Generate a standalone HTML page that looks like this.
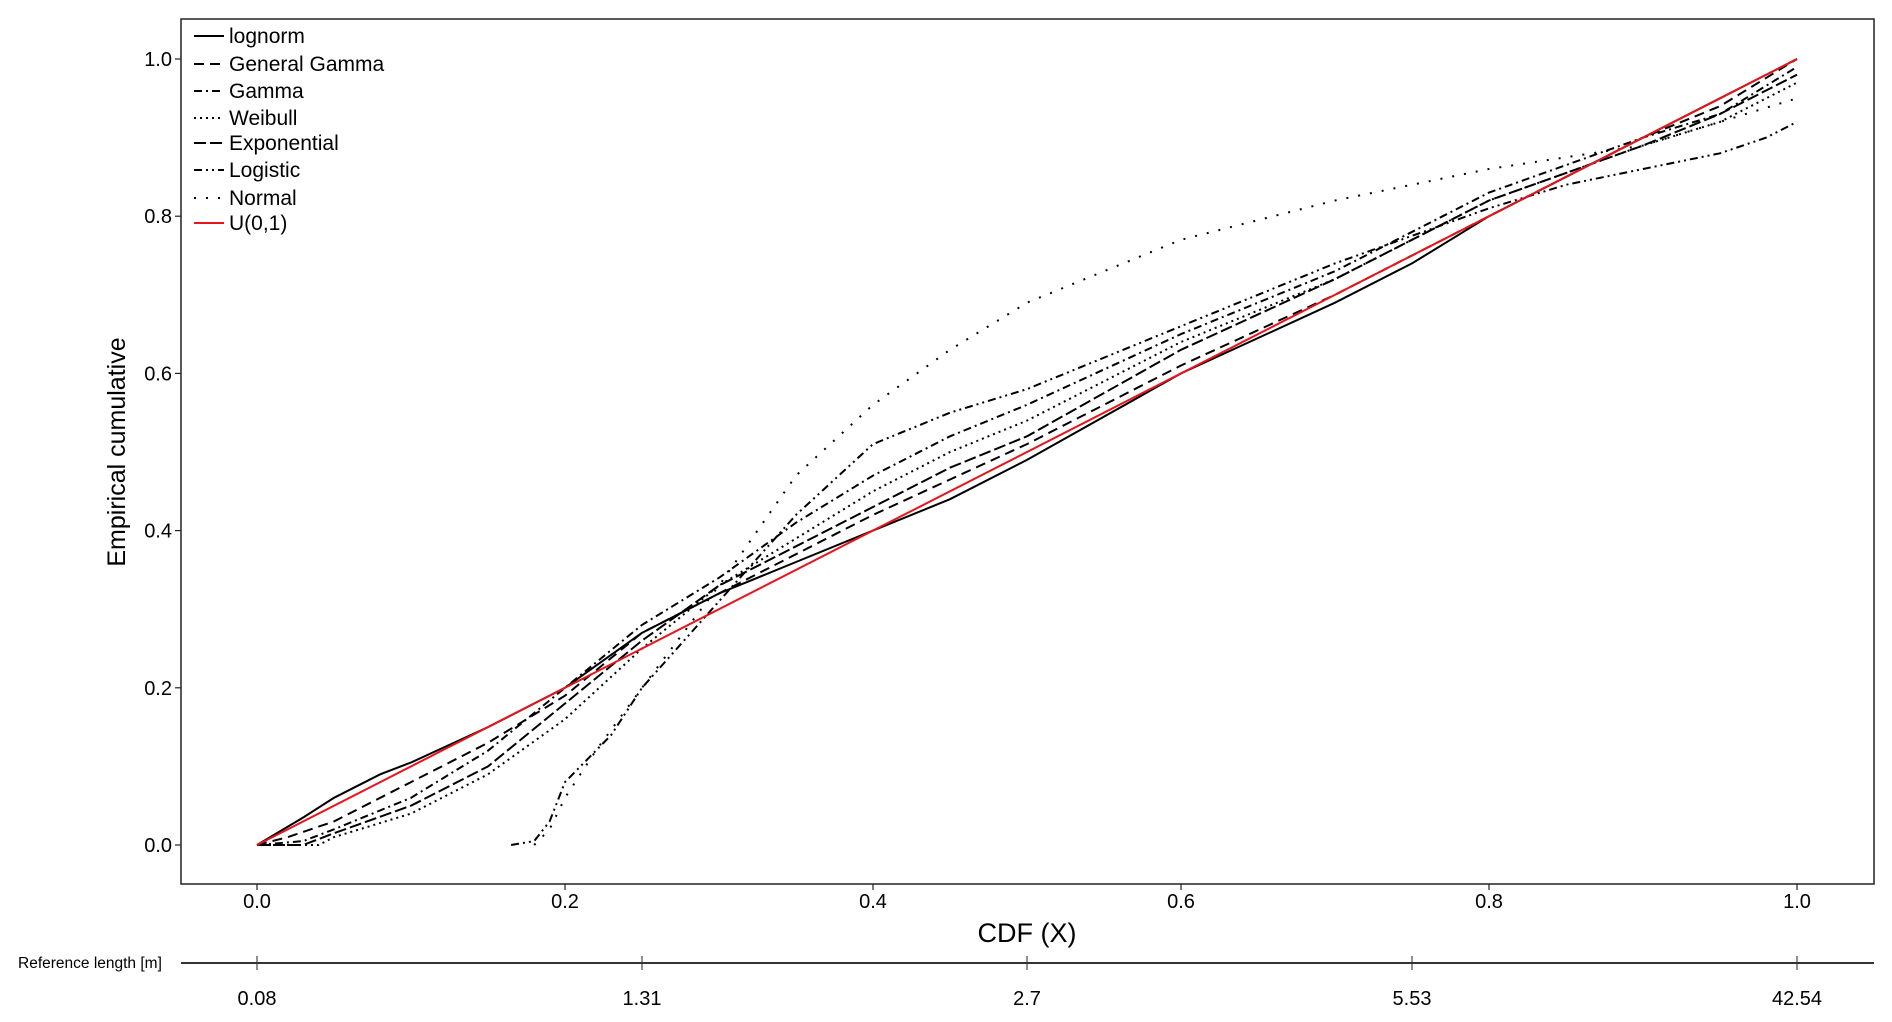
<!DOCTYPE html>
<html><head><meta charset="utf-8"><style>
body{margin:0;background:#fff;}
svg{display:block;font-family:"Liberation Sans",sans-serif;}
</style></head><body>
<svg id="chart" width="1892" height="1022" viewBox="0 0 1892 1022" xmlns="http://www.w3.org/2000/svg">
<rect x="181" y="19" width="1693" height="865" fill="none" stroke="#222" stroke-width="1.5"/>
<g id="ticks"></g>
<g id="series"></g>
<text x="125" y="452" font-size="25" text-anchor="middle" transform="rotate(-90 125 452)">Empirical cumulative</text>
<text x="1027" y="942" font-size="27" text-anchor="middle">CDF (X)</text>
<line x1="181" y1="963" x2="1874" y2="963" stroke="#333" stroke-width="2"/>
<text x="18" y="968" font-size="15.5">Reference length [m]</text>
<g id="legend"></g>
</svg>
<script>
const xTicks=[0,0.2,0.4,0.6,0.8,1.0];
const xTickLabels=["0.0","0.2","0.4","0.6","0.8","1.0"];
const yTicks=[0,0.2,0.4,0.6,0.8,1.0];
const yTickLabels=["0.0","0.2","0.4","0.6","0.8","1.0"];
const refTicks=[0,0.25,0.5,0.75,1.0];
const refLabels=["0.08","1.31","2.7","5.53","42.54"];
const seriesNames=["lognorm","General Gamma","Gamma","Weibull","Exponential","Logistic","Normal","U(0,1)"];
const lognormX=[0,0.03,0.05,0.08,0.1,0.15,0.2,0.25,0.3,0.35,0.4,0.45,0.5,0.6,0.7,0.75,0.8,0.9,0.95,1];
const lognormY=[0,0.035,0.06,0.09,0.105,0.15,0.2,0.27,0.32,0.36,0.4,0.44,0.49,0.6,0.69,0.74,0.8,0.9,0.95,1];
const ggammaX=[0,0.02,0.05,0.1,0.15,0.2,0.25,0.3,0.35,0.4,0.5,0.6,0.7,0.8,0.9,0.95,1];
const ggammaY=[0,0.01,0.03,0.08,0.13,0.19,0.27,0.32,0.37,0.42,0.51,0.61,0.7,0.8,0.9,0.94,1];
const gammaX=[0,0.03,0.05,0.1,0.15,0.2,0.25,0.3,0.35,0.4,0.45,0.5,0.6,0.7,0.8,0.9,0.95,1];
const gammaY=[0,0.005,0.02,0.06,0.12,0.2,0.28,0.34,0.41,0.47,0.52,0.56,0.65,0.73,0.83,0.9,0.93,0.99];
const weibullX=[0,0.04,0.05,0.1,0.15,0.2,0.25,0.3,0.35,0.4,0.45,0.5,0.6,0.7,0.8,0.9,0.95,1];
const weibullY=[0,0,0.01,0.04,0.09,0.16,0.25,0.33,0.39,0.45,0.5,0.54,0.64,0.72,0.82,0.89,0.92,0.97];
const expoX=[0,0.03,0.05,0.1,0.15,0.2,0.25,0.3,0.35,0.4,0.45,0.5,0.6,0.7,0.8,0.9,0.95,1];
const expoY=[0,0,0.015,0.05,0.1,0.18,0.26,0.33,0.38,0.43,0.48,0.52,0.63,0.72,0.82,0.89,0.93,0.98];
const logisticX=[0.165,0.18,0.19,0.2,0.23,0.25,0.3,0.35,0.4,0.45,0.5,0.6,0.7,0.8,0.85,0.9,0.95,0.98,1];
const logisticY=[0,0.005,0.03,0.08,0.14,0.2,0.31,0.42,0.51,0.55,0.58,0.66,0.74,0.81,0.84,0.86,0.88,0.9,0.92];
const normalX=[0.18,0.19,0.2,0.22,0.25,0.3,0.35,0.4,0.45,0.5,0.6,0.7,0.8,0.9,0.95,1];
const normalY=[0,0.02,0.06,0.12,0.2,0.33,0.47,0.56,0.63,0.69,0.77,0.82,0.86,0.89,0.92,0.95];
const uniformX=[0,1];
const uniformY=[0,1];
const NS="http://www.w3.org/2000/svg";
function sx(v){return 257+v*(1797-257);}
function sy(v){return 845-v*(845-59);}
const tg=document.getElementById('ticks');
function mk(tag,parent,attrs){const e=document.createElementNS(NS,tag);for(const k in attrs)e.setAttribute(k,attrs[k]);parent.appendChild(e);return e;}
xTicks.forEach((t,i)=>{
 const l=mk('line',tg,{x1:sx(t),x2:sx(t),y1:884,y2:890,stroke:'#222','stroke-width':1.2});
 
 
 const tx=mk('text',tg,{x:sx(t),y:908,'font-size':20,'text-anchor':'middle'});tx.textContent=xTickLabels[i];
 
 
});
yTicks.forEach((t,i)=>{
 const l=mk('line',tg,{x1:175,x2:181,y1:sy(t),y2:sy(t),stroke:'#222','stroke-width':1.2});
 
 
 const tx=mk('text',tg,{x:172,y:sy(t)+7,'font-size':20,'text-anchor':'end'});tx.textContent=yTickLabels[i];
 
 
});
refTicks.forEach((t,i)=>{
 const l=mk('line',tg,{x1:sx(t),x2:sx(t),y1:956,y2:970,stroke:'#222','stroke-width':1});
 
 
 const tx=mk('text',tg,{x:sx(t),y:1005,'font-size':20,'text-anchor':'middle'});tx.textContent=refLabels[i];
 
 
});
const styles=[
 {d:'',c:'#000',w:2},{d:'10,6',c:'#000',w:2},{d:'8,4,2,4',c:'#000',w:2},{d:'2,4',c:'#000',w:2},
 {d:'12,4',c:'#000',w:2},{d:'8,4,2,4,2,4',c:'#000',w:2},{d:'2,10',c:'#000',w:2},{d:'',c:'#e8141b',w:2}];
const data=[[lognormX,lognormY],[ggammaX,ggammaY],[gammaX,gammaY],[weibullX,weibullY],[expoX,expoY],[logisticX,logisticY],[normalX,normalY],[uniformX,uniformY]];
const sg=document.getElementById('series');
data.forEach((s,i)=>{
 const pts=s[0].map((x,j)=>sx(x).toFixed(1)+','+sy(s[1][j]).toFixed(1)).join(' ');
 const p=mk('polyline',sg,{points:pts,fill:'none',stroke:styles[i].c,'stroke-width':styles[i].w,'stroke-dasharray':styles[i].d||'none'});
 
 
});
const lg=document.getElementById('legend');
const rows=[36,64,91,118,143,170,198,223];
seriesNames.forEach((n,i)=>{
 const l=mk('line',lg,{x1:194,x2:224,y1:rows[i],y2:rows[i],stroke:styles[i].c,'stroke-width':2,'stroke-dasharray':styles[i].d||'none'});
 
 
 const t=mk('text',lg,{x:229,y:rows[i]+7,'font-size':21});t.textContent=n;
 
 
});
</script>
</body></html>
